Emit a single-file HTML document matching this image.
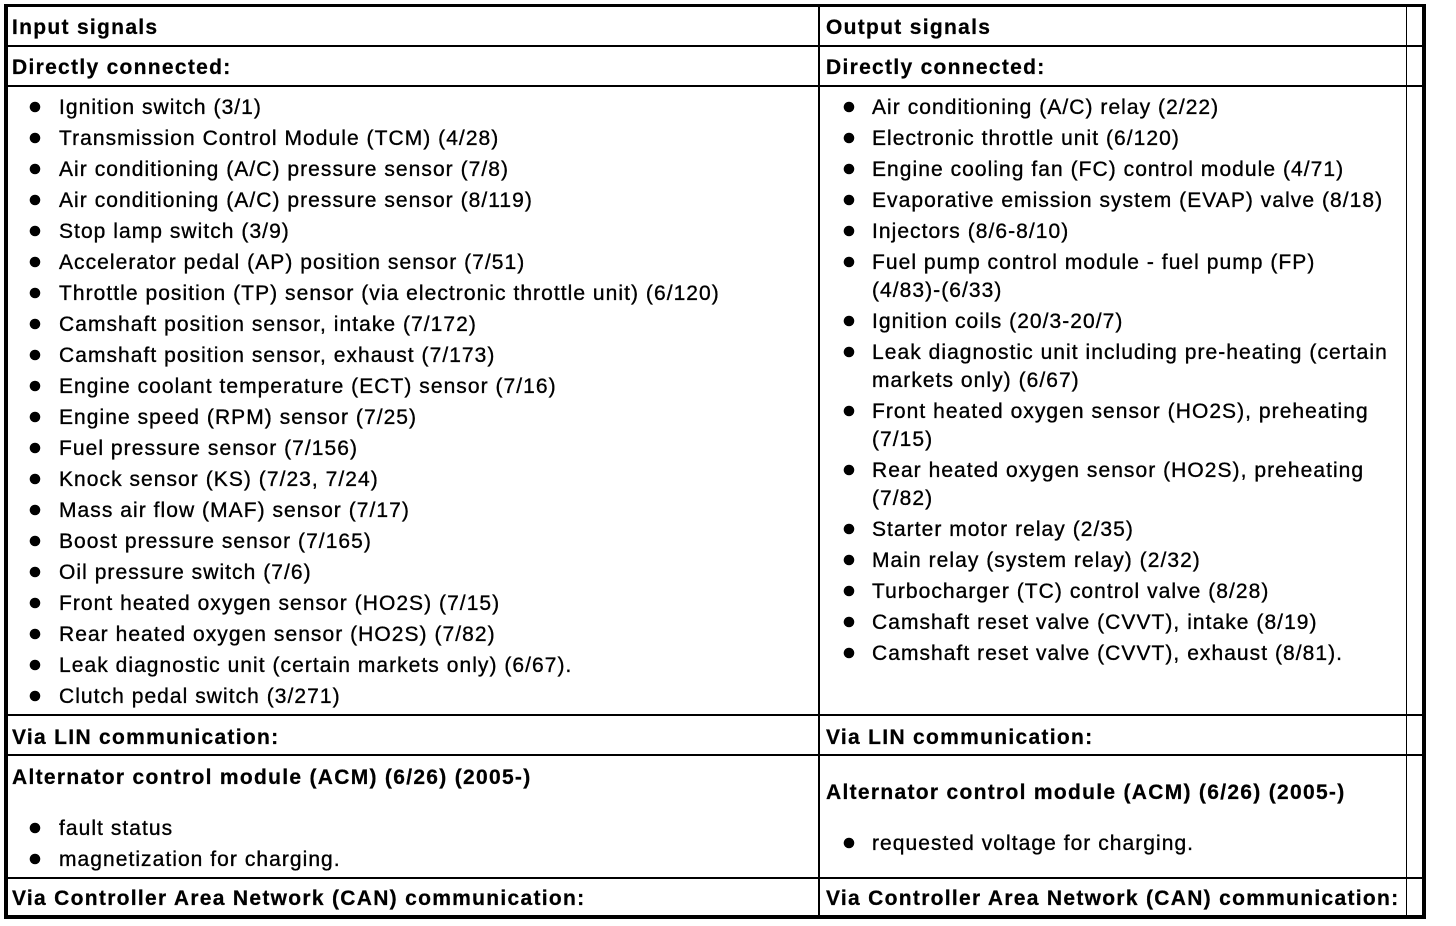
<!DOCTYPE html>
<html>
<head>
<meta charset="utf-8">
<style>
  html, body { margin: 0; padding: 0; background: #fff; }
  body { width: 1456px; height: 926px; overflow: hidden; }
  svg { display: block; }
  text { font-family: "Liberation Sans", Arial, Helvetica, sans-serif; font-size: 21px; fill: #000; stroke: #000; stroke-width: 0.35px; letter-spacing: 1.05px; }
  text.b { font-weight: bold; letter-spacing: 1.3px; stroke-width: 0.25px; }
</style>
</head>
<body>
<svg width="1456" height="926" viewBox="0 0 1456 926" xmlns="http://www.w3.org/2000/svg">
  <rect x="0" y="0" width="1456" height="926" fill="#fff"/>
  <!-- outer border -->
  <rect x="4" y="4" width="1422" height="3" fill="#000"/>
  <rect x="4" y="915" width="1422" height="4" fill="#000"/>
  <rect x="4" y="4" width="4" height="915" fill="#000"/>
  <rect x="1422" y="4" width="4" height="915" fill="#000"/>
  <!-- horizontal row lines -->
  <rect x="4" y="45" width="1422" height="2" fill="#000"/>
  <rect x="4" y="85" width="1422" height="2" fill="#000"/>
  <rect x="4" y="714" width="1422" height="2" fill="#000"/>
  <rect x="4" y="754" width="1422" height="2" fill="#000"/>
  <rect x="4" y="877" width="1422" height="2" fill="#000"/>
  <!-- vertical lines -->
  <rect x="818" y="4" width="2" height="915" fill="#000"/>
  <rect x="1406" y="4" width="1" height="915" fill="#000"/>

  <!-- headers -->
  <text class="b" x="12" y="34">Input signals</text>
  <text class="b" x="826" y="34">Output signals</text>
  <text class="b" x="12" y="74">Directly connected:</text>
  <text class="b" x="826" y="74">Directly connected:</text>

  <!-- left list -->
  <g>
    <circle cx="35" cy="107" r="5.3"/><text x="59" y="114">Ignition switch (3/1)</text>
    <circle cx="35" cy="138" r="5.3"/><text x="59" y="145">Transmission Control Module (TCM) (4/28)</text>
    <circle cx="35" cy="169" r="5.3"/><text x="59" y="176">Air conditioning (A/C) pressure sensor (7/8)</text>
    <circle cx="35" cy="200" r="5.3"/><text x="59" y="207">Air conditioning (A/C) pressure sensor (8/119)</text>
    <circle cx="35" cy="231" r="5.3"/><text x="59" y="238">Stop lamp switch (3/9)</text>
    <circle cx="35" cy="262" r="5.3"/><text x="59" y="269">Accelerator pedal (AP) position sensor (7/51)</text>
    <circle cx="35" cy="293" r="5.3"/><text x="59" y="300">Throttle position (TP) sensor (via electronic throttle unit) (6/120)</text>
    <circle cx="35" cy="324" r="5.3"/><text x="59" y="331">Camshaft position sensor, intake (7/172)</text>
    <circle cx="35" cy="355" r="5.3"/><text x="59" y="362">Camshaft position sensor, exhaust (7/173)</text>
    <circle cx="35" cy="386" r="5.3"/><text x="59" y="393">Engine coolant temperature (ECT) sensor (7/16)</text>
    <circle cx="35" cy="417" r="5.3"/><text x="59" y="424">Engine speed (RPM) sensor (7/25)</text>
    <circle cx="35" cy="448" r="5.3"/><text x="59" y="455">Fuel pressure sensor (7/156)</text>
    <circle cx="35" cy="479" r="5.3"/><text x="59" y="486">Knock sensor (KS) (7/23, 7/24)</text>
    <circle cx="35" cy="510" r="5.3"/><text x="59" y="517">Mass air flow (MAF) sensor (7/17)</text>
    <circle cx="35" cy="541" r="5.3"/><text x="59" y="548">Boost pressure sensor (7/165)</text>
    <circle cx="35" cy="572" r="5.3"/><text x="59" y="579">Oil pressure switch (7/6)</text>
    <circle cx="35" cy="603" r="5.3"/><text x="59" y="610">Front heated oxygen sensor (HO2S) (7/15)</text>
    <circle cx="35" cy="634" r="5.3"/><text x="59" y="641">Rear heated oxygen sensor (HO2S) (7/82)</text>
    <circle cx="35" cy="665" r="5.3"/><text x="59" y="672">Leak diagnostic unit (certain markets only) (6/67).</text>
    <circle cx="35" cy="696" r="5.3"/><text x="59" y="703">Clutch pedal switch (3/271)</text>
  </g>

  <!-- right list -->
  <g>
    <circle cx="849" cy="107" r="5.3"/><text x="872" y="114">Air conditioning (A/C) relay (2/22)</text>
    <circle cx="849" cy="138" r="5.3"/><text x="872" y="145">Electronic throttle unit (6/120)</text>
    <circle cx="849" cy="169" r="5.3"/><text x="872" y="176">Engine cooling fan (FC) control module (4/71)</text>
    <circle cx="849" cy="200" r="5.3"/><text x="872" y="207">Evaporative emission system (EVAP) valve (8/18)</text>
    <circle cx="849" cy="231" r="5.3"/><text x="872" y="238">Injectors (8/6-8/10)</text>
    <circle cx="849" cy="262" r="5.3"/><text x="872" y="269">Fuel pump control module - fuel pump (FP)</text>
    <text x="872" y="297">(4/83)-(6/33)</text>
    <circle cx="849" cy="321" r="5.3"/><text x="872" y="328">Ignition coils (20/3-20/7)</text>
    <circle cx="849" cy="352" r="5.3"/><text x="872" y="359">Leak diagnostic unit including pre-heating (certain</text>
    <text x="872" y="387">markets only) (6/67)</text>
    <circle cx="849" cy="411" r="5.3"/><text x="872" y="418">Front heated oxygen sensor (HO2S), preheating</text>
    <text x="872" y="446">(7/15)</text>
    <circle cx="849" cy="470" r="5.3"/><text x="872" y="477">Rear heated oxygen sensor (HO2S), preheating</text>
    <text x="872" y="505">(7/82)</text>
    <circle cx="849" cy="529" r="5.3"/><text x="872" y="536">Starter motor relay (2/35)</text>
    <circle cx="849" cy="560" r="5.3"/><text x="872" y="567">Main relay (system relay) (2/32)</text>
    <circle cx="849" cy="591" r="5.3"/><text x="872" y="598">Turbocharger (TC) control valve (8/28)</text>
    <circle cx="849" cy="622" r="5.3"/><text x="872" y="629">Camshaft reset valve (CVVT), intake (8/19)</text>
    <circle cx="849" cy="653" r="5.3"/><text x="872" y="660">Camshaft reset valve (CVVT), exhaust (8/81).</text>
  </g>

  <!-- LIN -->
  <text class="b" x="12" y="744">Via LIN communication:</text>
  <text class="b" x="826" y="744">Via LIN communication:</text>

  <text class="b" x="12" y="784">Alternator control module (ACM) (6/26) (2005-)</text>
  <circle cx="35" cy="828" r="5.3"/><text x="59" y="835">fault status</text>
  <circle cx="35" cy="859" r="5.3"/><text x="59" y="866">magnetization for charging.</text>

  <text class="b" x="826" y="799">Alternator control module (ACM) (6/26) (2005-)</text>
  <circle cx="849" cy="843" r="5.3"/><text x="872" y="850">requested voltage for charging.</text>

  <!-- CAN -->
  <text class="b" x="12" y="905">Via Controller Area Network (CAN) communication:</text>
  <text class="b" x="826" y="905">Via Controller Area Network (CAN) communication:</text>
</svg>
</body>
</html>
